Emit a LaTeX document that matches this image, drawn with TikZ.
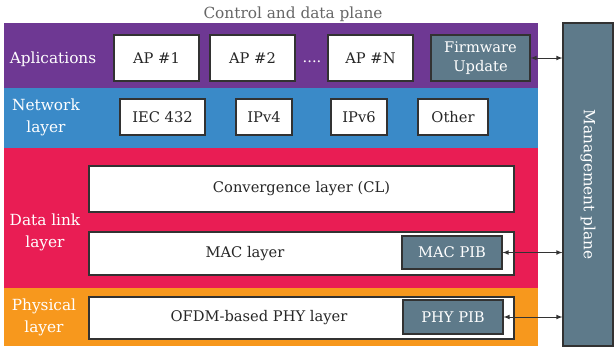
\documentclass[tikz,border=0pt]{standalone}
\usepackage{fontspec}
\setmainfont{DejaVu Serif}
\usepackage{tikz}

\definecolor{apppurple}{RGB}{110,56,147}
\definecolor{netblue}{RGB}{58,138,200}
\definecolor{linkred}{RGB}{233,29,84}
\definecolor{phyorange}{RGB}{247,152,29}
\definecolor{mgmtgray}{RGB}{94,122,138}
\definecolor{edgegray}{RGB}{50,50,50}

\tikzset{
    wbox/.style 2 args={draw=edgegray, line width=0.8pt, fill=white, text=black!85, inner sep=0pt,
        minimum width=#1*0.75pt, minimum height=#2*0.75pt},
    gbox/.style 2 args={draw=edgegray, line width=0.8pt, fill=mgmtgray, text=white, inner sep=0pt,
        minimum width=#1*0.75pt, minimum height=#2*0.75pt},
    bandlabel/.style={text=white, align=center, inner sep=0pt,
        font=\fontsize{11.5}{16.5}\selectfont},
    link/.style={<->, >=latex, line width=0.6pt, black!80}
}

\begin{document}
\begin{tikzpicture}[x=0.75pt, y=-0.75pt, font=\fontsize{11}{15}\selectfont]
    \useasboundingbox (0,0) rectangle (614,347);

    % Draw the layer bands
    \fill[apppurple] (4,23) rectangle (538,88);
    \fill[netblue] (4,88) rectangle (538,148);
    \fill[linkred] (4,148) rectangle (538,288);
    \fill[phyorange] (4,288) rectangle (538,346);

    % Title
    \node[text=black!60, font=\fontsize{11.5}{14}\selectfont] (title) at (293,14) {Control and data plane};

    % Band labels
    \node[bandlabel] (lapp) at (53,59) {Aplications};
    \node[bandlabel] (lnet) at (46,117) {Network\\layer};
    \node[bandlabel] (llink) at (45,232) {Data link\\layer};
    \node[bandlabel] (lphy) at (44,317) {Physical\\layer};

    % Applications
    \node[wbox={85}{46}] (ap1) at (156.5,58) {AP \#1};
    \node[wbox={85}{46}] (ap2) at (252.5,58) {AP \#2};
    \node[text=white] (dots) at (312,62) {....};
    \node[wbox={85}{46}] (apn) at (370.5,58) {AP \#N};
    \node[gbox={99}{46}, align=center, font=\fontsize{11}{14}\selectfont] (fw) at (480.5,58) {Firmware\\Update};

    % Network layer
    \node[wbox={85}{36}] (iec) at (162.5,117) {IEC 432};
    \node[wbox={56}{36}] (ipv4) at (264,117) {IPv4};
    \node[wbox={56}{36}] (ipv6) at (359,117) {IPv6};
    \node[wbox={70}{36}] (other) at (453,117) {Other};

    % Data link layer
    \node[wbox={425}{46}] (cl) at (301.5,189) {Convergence layer (CL)};
    \node[wbox={425}{43}] (mac) at (301.5,253.5) {};
    \node[text=black!85] (mactext) at (245,253.5) {MAC layer};
    \node[gbox={100}{33}] (macpib) at (452,252.5) {MAC PIB};

    % Physical layer
    \node[wbox={425}{42}] (ofdm) at (301.5,318) {};
    \node[text=black!85] (ofdmtext) at (259,318) {OFDM-based PHY layer};
    \node[gbox={100}{34}] (phypib) at (453,317) {PHY PIB};

    % Management plane
    \node[gbox={50}{323}] (mgmt) at (588,184.5) {};
    \node[text=white, rotate=-90, font=\fontsize{11.5}{14}\selectfont] (mgmttext) at (mgmt) {Management plane};

    % Draw links to the management plane
    \draw[link] (fw.east) -- (fw.east -| mgmt.west);
    \draw[link] (macpib.east) -- (macpib.east -| mgmt.west);
    \draw[link] (phypib.east) -- (phypib.east -| mgmt.west);
\end{tikzpicture}
\end{document}
